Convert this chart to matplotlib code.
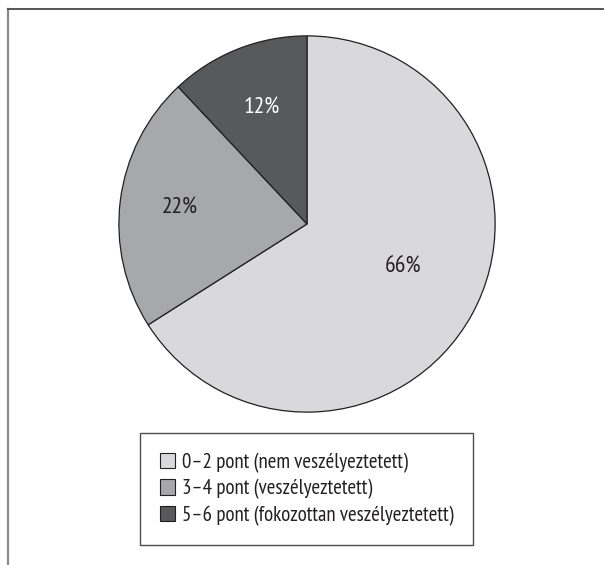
import matplotlib
matplotlib.use('Agg')
import matplotlib.pyplot as plt
from matplotlib.lines import Line2D
from matplotlib.patches import Patch
import numpy as np

plt.rcParams['font.family'] = ['PT Sans Narrow', 'Liberation Sans', 'DejaVu Sans']

# Adatok
labels = ['0–2 pont (nem veszélyeztetett)',
          '3–4 pont (veszélyeztetett)',
          '5–6 pont (fokozottan veszélyeztetett)']
values = [66, 22, 12]
colors = ['#d9d9db', '#a7a8aa', '#58595b']
text_colors = ['#231f20', '#231f20', '#ffffff']
label_dist = [0.58, 0.68, 0.66]

W, H = 605, 565
fig = plt.figure(figsize=(W / 100, H / 100), dpi=100)

# Kör: középpont (307, 224), sugár 190 px
ax = fig.add_axes([117 / W, 1 - 414 / H, 380 / W, 380 / H])
wedges, texts, autotexts = ax.pie(
    values, colors=colors, startangle=90, counterclock=False,
    autopct='%d%%', pctdistance=0.63,
    wedgeprops=dict(edgecolor='#231f20', linewidth=0.9))
for w, t, c, d in zip(wedges, autotexts, text_colors, label_dist):
    ang = np.radians((w.theta1 + w.theta2) / 2)
    t.set_position((d * np.cos(ang), d * np.sin(ang) + (0.05 if d < 0.6 else 0)))
    t.set_color(c)
    t.set_fontsize(17)
ax.set_xlim(-1.01, 1.01)
ax.set_ylim(-1.01, 1.01)
ax.axis('off')

# Jelmagyarázat
handles = [Patch(facecolor=c, edgecolor='#231f20', linewidth=0.8) for c in colors]
leg = fig.legend(handles, labels, loc='upper left',
                 bbox_to_anchor=(140 / W, 1 - 433 / H), borderaxespad=0,
                 fontsize=15, frameon=True, fancybox=False,
                 handlelength=0.75, handleheight=0.75, handletextpad=0.3,
                 labelspacing=0.3, borderpad=0.95)
leg.get_frame().set_edgecolor('#231f20')
leg.get_frame().set_linewidth(1.0)
for t in leg.get_texts():
    t.set_color('#231f20')

# Keret (bal és felső vonal)
fig.add_artist(Line2D([7.5 / W, 7.5 / W], [0, 1 - 9 / H], color='#8a8a8a',
                      linewidth=1.6, transform=fig.transFigure))
fig.add_artist(Line2D([7.5 / W, 603 / W], [1 - 9 / H, 1 - 9 / H], color='#555555',
                      linewidth=1.4, transform=fig.transFigure))

fig.savefig('out.png', dpi=100)
